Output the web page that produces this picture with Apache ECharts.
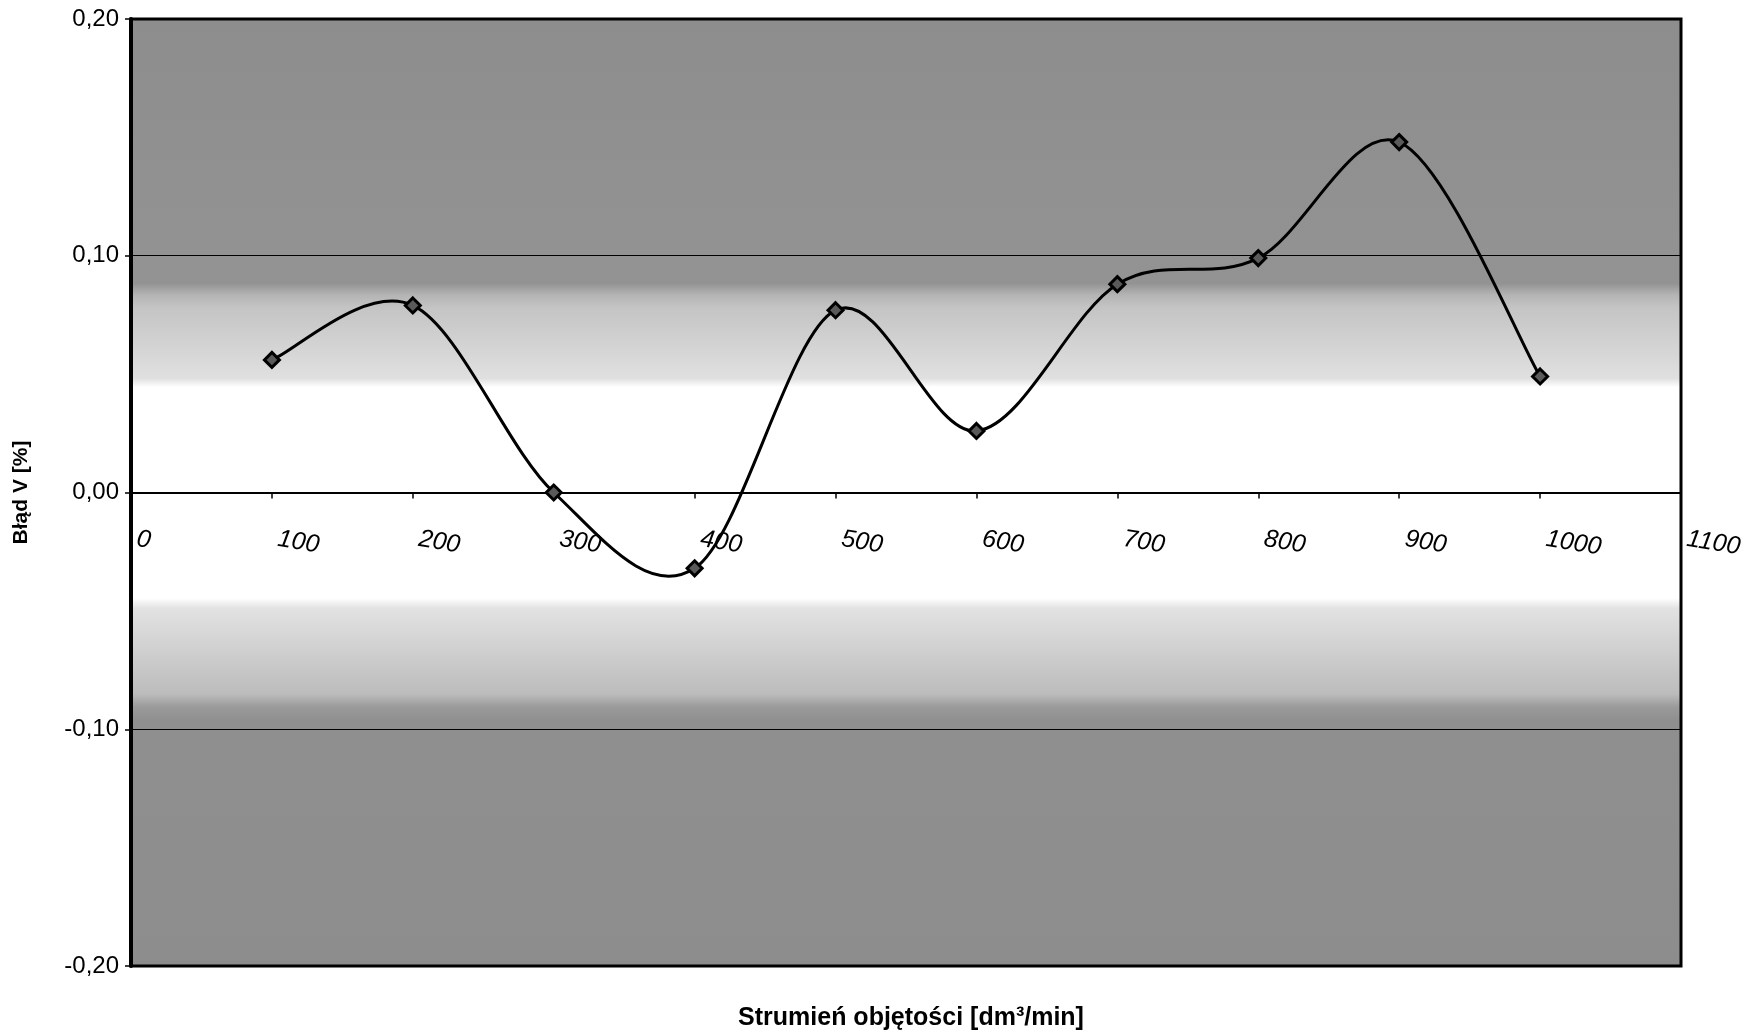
<!DOCTYPE html>
<html>
<head>
<meta charset="utf-8">
<title>Błąd V</title>
<script src="https://cdn.jsdelivr.net/npm/echarts@6/dist/echarts.min.js"></script>
<style>
  html, body { margin: 0; padding: 0; background: #fff; }
  #chart { width: 1757px; height: 1036px; }
</style>
</head>
<body>
<div id="chart"></div>
<script>
// Volume flow rate [dm3/min] and the measured error of V [%]
const flowRates   = [100, 200, 300, 400, 500, 600, 700, 800, 900, 1000];
const errorValues = [0.056, 0.079, 0.000, -0.032, 0.077, 0.026, 0.088, 0.099, 0.148, 0.049];

// Axis ranges and tick steps
const xRange = { min: 0, max: 1100, step: 100 };
const yRange = { min: -0.20, max: 0.20, step: 0.10 };

const xTitle = 'Strumień objętości [dm³/min]';
const yTitle = 'Błąd V [%]';

const chart = echarts.init(document.getElementById('chart'), null, { renderer: 'canvas' });

const points = flowRates.map((x, i) => [x, errorValues[i]]);

// Plot background: grey at the edges fading to a white band around zero
const bgGradient = new echarts.graphic.LinearGradient(0, 0, 0, 1, [
  { offset: 0.000, color: '#8d8d8d' },
  { offset: 0.280, color: '#939393' },
  { offset: 0.292, color: '#b4b4b4' },
  { offset: 0.305, color: '#c4c4c4' },
  { offset: 0.345, color: '#d3d3d3' },
  { offset: 0.380, color: '#e0e0e0' },
  { offset: 0.389, color: '#ffffff' },
  { offset: 0.611, color: '#ffffff' },
  { offset: 0.622, color: '#e2e2e2' },
  { offset: 0.665, color: '#d0d0d0' },
  { offset: 0.712, color: '#bcbcbc' },
  { offset: 0.726, color: '#9a9a9a' },
  { offset: 0.740, color: '#8f8f8f' },
  { offset: 1.000, color: '#8d8d8d' }
]);

const fmtY = v => v.toFixed(2).replace('.', ',');

// Smooth curve through the points (cardinal spline, 1/6 tangent factor),
// one cubic segment per pair of neighbouring points, placed via api.coord.
function renderCurve(params, api) {
  const i = params.dataIndex;
  if (i >= points.length - 1) return null;
  const P = k => api.coord(points[Math.max(0, Math.min(points.length - 1, k))]);
  const p0 = P(i - 1), p1 = P(i), p2 = P(i + 1), p3 = P(i + 2);
  return {
    type: 'bezierCurve',
    shape: {
      x1: p1[0], y1: p1[1],
      x2: p2[0], y2: p2[1],
      cpx1: p1[0] + (p2[0] - p0[0]) / 6,
      cpy1: p1[1] + (p2[1] - p0[1]) / 6,
      cpx2: p2[0] - (p3[0] - p1[0]) / 6,
      cpy2: p2[1] - (p3[1] - p1[1]) / 6
    },
    style: { stroke: '#000', lineWidth: 3, fill: null, lineCap: 'round', lineJoin: 'round' }
  };
}

chart.setOption({
  animation: false,
  backgroundColor: '#ffffff',
  title: {
    text: xTitle,
    left: 906,
    top: 1001,
    textAlign: 'center',
    textStyle: { fontFamily: 'Liberation Sans, Arial, sans-serif', fontWeight: 'bold', fontSize: 25, color: '#000' }
  },
  grid: {
    left: 131, top: 19, right: 76, bottom: 70,
    show: true,
    backgroundColor: bgGradient,
    borderColor: '#000',
    borderWidth: 3
  },
  xAxis: {
    type: 'value',
    min: xRange.min, max: xRange.max, interval: xRange.step,
    axisLine: { onZero: true, lineStyle: { color: '#000', width: 2 } },
    axisTick: { show: true, inside: false, length: 6, lineStyle: { color: '#000', width: 1.5 } },
    axisLabel: {
      color: '#000',
      fontFamily: 'Liberation Sans, Arial, sans-serif',
      fontStyle: 'italic',
      fontSize: 25,
      rotate: -9,
      margin: -428,
      padding: [0, 0, 0, 6],
      align: 'left',
      verticalAlign: 'middle',
      showMaxLabel: true,
      showMinLabel: true,
      formatter: v => String(v)
    },
    splitLine: { show: false }
  },
  yAxis: {
    type: 'value',
    min: yRange.min, max: yRange.max, interval: yRange.step,
    name: yTitle,
    nameLocation: 'middle',
    nameGap: 99,
    nameRotate: 90,
    nameTextStyle: { fontFamily: 'Liberation Sans, Arial, sans-serif', fontWeight: 'bold', fontSize: 21, color: '#000' },
    axisLine: { show: true, onZero: false, lineStyle: { color: '#000', width: 4 } },
    axisTick: { show: true, inside: false, length: 6, lineStyle: { color: '#000', width: 1.5 } },
    axisLabel: {
      color: '#000',
      fontFamily: 'Liberation Sans, Arial, sans-serif',
      fontSize: 24,
      margin: 12,
      formatter: fmtY
    },
    splitLine: { show: true, lineStyle: { color: '#000', width: 1.2 } }
  },
  series: [{
    type: 'custom',
    data: points,
    renderItem: renderCurve,
    z: 4,
    silent: true
  }, {
    type: 'scatter',
    data: points,
    symbol: 'diamond',
    symbolSize: 15,
    itemStyle: { color: '#5a5a5a', borderColor: '#000', borderWidth: 3, opacity: 1 },
    z: 5
  }]
});
</script>
</body>
</html>
